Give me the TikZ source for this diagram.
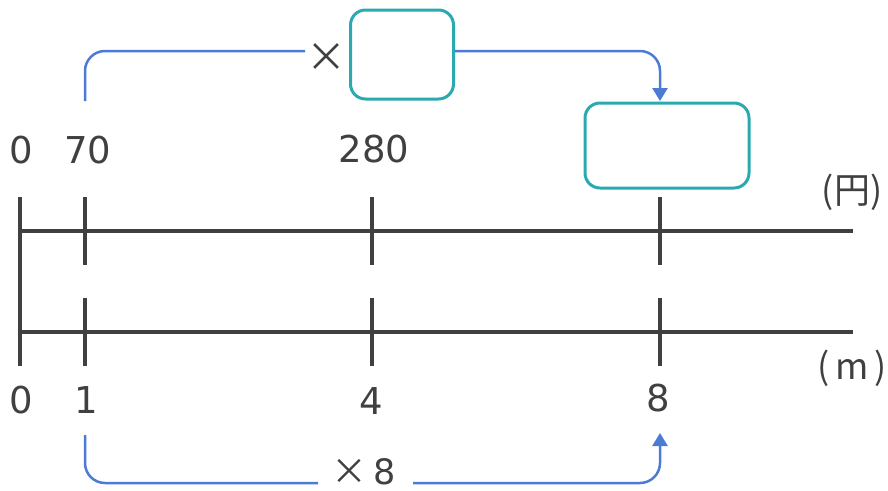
\documentclass[tikz,border=0pt]{standalone}
\usepackage{fontspec}
\setmainfont{DejaVu Sans}
\newfontfamily\jpfont{Noto Sans CJK JP}
\usetikzlibrary{arrows.meta}
\definecolor{axisc}{HTML}{404040}
\definecolor{arrc}{HTML}{4B7BD5}
\definecolor{boxc}{HTML}{2AAAB0}
\begin{document}
\begin{tikzpicture}[x=1pt,y=-1pt,
  axis/.style={line width=4.5pt,draw=axisc},
  tickline/.style={line width=3.5pt,draw=axisc},
  lbl/.style={font=\fontsize{37}{40}\selectfont,text=axisc,inner sep=0},
  unit/.style={font=\jpfont\fontsize{36}{40}\selectfont,text=axisc,inner sep=0},
  timesfont/.style={font=\jpfont\fontsize{40}{44}\selectfont,text=axisc,inner sep=0},
  blank/.style={draw=boxc,line width=3pt,rounded corners=15pt,inner sep=0},
  conn/.style={draw=arrc,line width=2.5pt,rounded corners=20pt},
  tipped/.style={-{Triangle[width=15pt,length=13pt]}}]
\useasboundingbox (0,0) rectangle (888,490);
% axes
\draw[tickline] (20,197) -- (20,365.5);
\draw[axis] (20,231) -- (853,231);
\draw[axis] (20,332) -- (853,332);
\foreach \x in {85,372,660}{
  \draw[tickline] (\x,197) -- (\x,265);
  \draw[tickline] (\x,298) -- (\x,365.5);
}
% labels
\node[lbl] (l0) at (21,150) {0};
\node[lbl] (l70) at (88,150) {70};
\node[lbl] (l280) at (374,149) {280};
\node[unit] (yen) at (852,192) {(円)};
\node[unit] (m) at (852,368) {(\,m\,)};
\node[lbl] (b0) at (21,400) {0};
\node[lbl] (b1) at (86,400) {1};
\node[lbl] (b4) at (371,401) {4};
\node[lbl] (b8) at (658,398) {8};
% boxes
\node[blank,minimum width=103pt,minimum height=89pt] (box1) at (402,54.5) {};
\node[blank,minimum width=164pt,minimum height=85pt] (box2) at (667,145.5) {};
% top connector
\coordinate (s70) at (85,101);
\coordinate (c1) at (305,51);
\coordinate (t8) at (660,101);
\node[timesfont] (times) at (326,58) {×};
\draw[conn] (s70) |- (c1);
\draw[conn,tipped] ([yshift=3.5pt]box1.east) -| (t8);
% bottom connector
\coordinate (s1) at (85,435);
\coordinate (c2) at (318,483);
\coordinate (c3) at (413,483);
\coordinate (e8) at (660,433);
\node[inner sep=0,anchor=base,text depth=0pt] (times8) at (364,484) {\jpfont\fontsize{36}{40}\selectfont\color{axisc}×\,{\fontspec{DejaVu Sans}\fontsize{35}{40}\selectfont 8}};
\draw[conn] (s1) |- (c2);
\draw[conn,tipped] (c3) -| (e8);
\end{tikzpicture}
\end{document}
